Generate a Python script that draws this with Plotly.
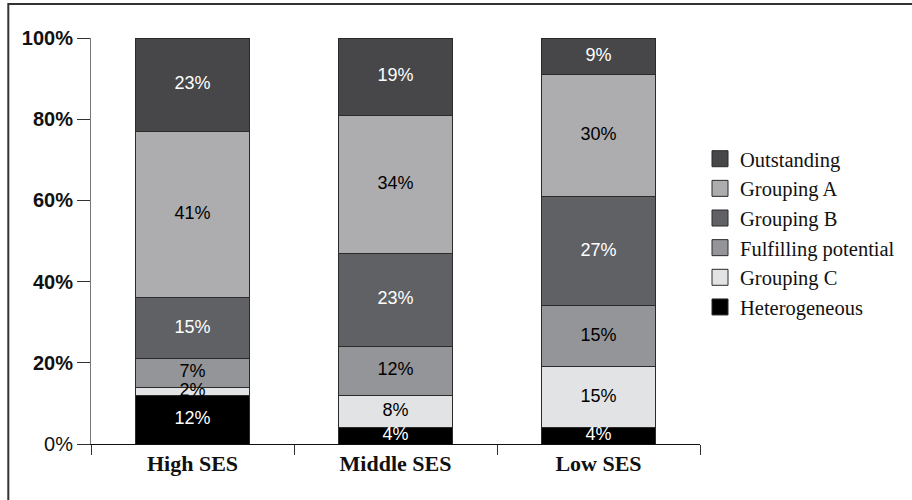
import plotly.graph_objects as go

categories = ["High SES", "Middle SES", "Low SES"]
series_names = ["Heterogeneous", "Grouping C", "Fulfilling potential", "Grouping B", "Grouping A", "Outstanding"]
heterogeneous = [12, 4, 4]
grouping_c = [2, 8, 15]
fulfilling = [7, 12, 15]
grouping_b = [15, 23, 27]
grouping_a = [41, 34, 30]
outstanding = [23, 19, 9]
y_tick_vals = [0, 20, 40, 60, 80, 100]
y_tick_text = ["0%", "<b>20%</b>", "<b>40%</b>", "<b>60%</b>", "<b>80%</b>", "<b>100%</b>"]

series_values = [heterogeneous, grouping_c, fulfilling, grouping_b, grouping_a, outstanding]
colors = ["#000000", "#e2e3e5", "#949598", "#606165", "#adadaf", "#47474a"]
text_colors = ["white", "black", "black", "white", "black", "white"]

fig = go.Figure()
for name, vals, col in zip(series_names, series_values, colors):
    fig.add_trace(go.Bar(
        x=categories, y=vals, name=name, legendgroup=name, showlegend=False,
        marker=dict(color=col, line=dict(color="#2a2a2a", width=1)),
        hoverinfo="skip",
    ))

# legend entries (larger square swatches than the default bar symbol)
for name, col in zip(series_names, colors):
    fig.add_trace(go.Scatter(
        x=[None], y=[None], mode="markers", name=name, legendgroup=name,
        marker=dict(symbol="square", size=16, color=col, line=dict(color="#2a2a2a", width=1)),
        showlegend=True, hoverinfo="skip",
    ))

# value labels at segment centres
base = [0, 0, 0]
for vals, tcol in zip(series_values, text_colors):
    mids = [b + v / 2 for b, v in zip(base, vals)]
    fig.add_trace(go.Scatter(
        x=categories, y=mids, mode="text",
        text=[f"{v}%" for v in vals],
        textfont=dict(family="Liberation Sans, Arial, sans-serif", size=18, color=tcol),
        showlegend=False, hoverinfo="skip",
    ))
    base = [b + v for b, v in zip(base, vals)]

fig.update_layout(
    barmode="stack",
    bargap=0.44,
    width=912, height=500,
    margin=dict(l=91, r=210, t=38, b=56),
    paper_bgcolor="white", plot_bgcolor="white",
    showlegend=True,
    legend=dict(
        traceorder="reversed",
        x=1.0, xanchor="left", y=0.52, yanchor="middle",
        font=dict(family="Liberation Serif, Times New Roman, serif", size=20.5, color="#111"),
        itemsizing="trace", tracegroupgap=0,
        bgcolor="rgba(0,0,0,0)",
    ),
    xaxis=dict(
        type="category",
        showline=True, linecolor="#111", linewidth=1,
        ticks="outside", tickson="boundaries", ticklen=10, tickcolor="#333", tickwidth=1,
        tickfont=dict(family="Liberation Serif, Times New Roman, serif", size=22, color="#111"),
        tickvals=categories, ticktext=[f"<b>{c}</b>" for c in categories],
        showgrid=False, zeroline=False,
    ),
    yaxis=dict(
        range=[0, 100],
        tickvals=y_tick_vals, ticktext=y_tick_text,
        showline=True, linecolor="#777", linewidth=1,
        ticks="outside", ticklen=13, tickcolor="#333", tickwidth=1,
        tickfont=dict(family="Liberation Sans, Arial, sans-serif", size=20, color="#111"),
        showgrid=False, zeroline=False,
    ),
    shapes=[dict(
        type="rect", xref="paper", yref="paper",
        x0=-0.1358, x1=1.35, y0=-0.2, y1=1.0837,
        line=dict(color="#333", width=2), fillcolor="rgba(0,0,0,0)", layer="below",
    )],
)

fig.write_html("out.html")
